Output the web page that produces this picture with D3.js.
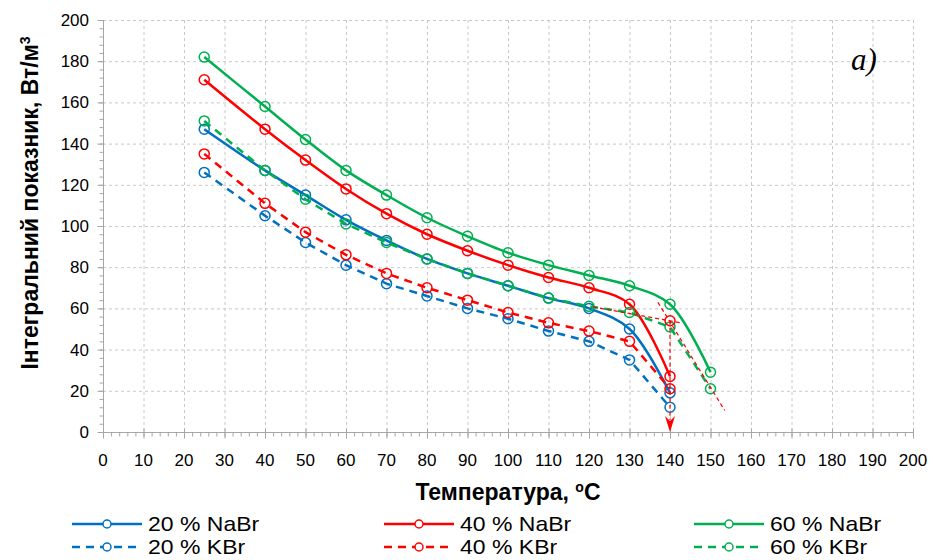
<!DOCTYPE html>
<html lang="uk">
<head>
<meta charset="utf-8">
<title>Інтегральний показник</title>
<script src="https://d3js.org/d3.v7.min.js"></script>
<style>
  body { margin: 0; background: #fff; }
  text { font-family: "Liberation Sans", Arial, sans-serif; fill: #000; }
</style>
</head>
<body>
<div id="chart"></div>
<script>
// temperatures, oC
var tempNa = [25, 40, 50, 60, 70, 80, 90, 100, 110, 120, 130, 140];
var tempNa60 = [25, 40, 50, 60, 70, 80, 90, 100, 110, 120, 130, 140, 150];

// integral index, W/m3
var na20 = [147, 127, 115, 103, 93, 84, 77, 71, 65, 60, 50, 19];
var na40 = [171, 147, 132, 118, 106, 96, 88, 81, 75, 70, 62, 27];
var na60 = [182, 158, 142, 127, 115, 104, 95, 87, 81, 76, 71, 62, 29];
var k20 = [126, 105, 92, 81, 72, 66, 60, 55, 49, 44, 35, 12];
var k40 = [135, 111, 97, 86, 77, 70, 64, 58, 53, 49, 44, 21];
var k60 = [151, 127, 113, 101, 92, 84, 77, 71, 65, 61, 58, 51, 21];

var seriesNames = ["20 % NaBr", "40 % NaBr", "60 % NaBr", "20 % KBr", "40 % KBr", "60 % KBr"];
var xTicks = d3.range(0, 201, 10);
var yTicks = d3.range(0, 201, 20);

// tangent lines used to find the critical point
var tangentA = [[121, 60.7], [143, 52.9]];
var tangentB = [[137, 63], [153.5, 10.5]];
var critical = [140, 54];

var blue = "#0070C0", red = "#FF0000", green = "#00B050";

var series = [
  {name: seriesNames[0], x: tempNa, y: na20, color: blue, dash: null},
  {name: seriesNames[1], x: tempNa, y: na40, color: red, dash: null},
  {name: seriesNames[2], x: tempNa60, y: na60, color: green, dash: null},
  {name: seriesNames[3], x: tempNa, y: k20, color: blue, dash: "8,6"},
  {name: seriesNames[4], x: tempNa, y: k40, color: red, dash: "8,6"},
  {name: seriesNames[5], x: tempNa60, y: k60, color: green, dash: "8,6"}
];

var W = 935, H = 560;
var plot = {left: 103, right: 913, top: 20, bottom: 432};

var svg = d3.select("#chart").append("svg")
  .attr("width", W).attr("height", H);

var x = d3.scaleLinear().domain([0, 200]).range([plot.left, plot.right]);
var y = d3.scaleLinear().domain([0, 200]).range([plot.bottom, plot.top]);

// grid
var grid = svg.append("g").attr("stroke", "#c8c8c8").attr("stroke-dasharray", "3,3").attr("stroke-width", 1);
grid.selectAll(".gx").data(xTicks.slice(1)).enter().append("line")
  .attr("x1", d => x(d) + 0.5).attr("x2", d => x(d) + 0.5)
  .attr("y1", plot.top).attr("y2", plot.bottom);
grid.selectAll(".gy").data(yTicks.slice(1)).enter().append("line")
  .attr("x1", plot.left).attr("x2", plot.right)
  .attr("y1", d => y(d) + 0.5).attr("y2", d => y(d) + 0.5);

// X axis
var xAxis = svg.append("g").attr("transform", "translate(0," + (plot.bottom + 0.5) + ")");
xAxis.call(d3.axisBottom(x).tickValues(d3.range(0, 201, 2)).tickSize(4).tickFormat(""));
xAxis.append("g").call(d3.axisBottom(x).tickValues(xTicks).tickSize(6).tickFormat(""));
xAxis.selectAll("path").remove();
xAxis.append("line").attr("x1", plot.left).attr("x2", plot.right).attr("stroke", "#a6a6a6");
xAxis.selectAll(".tick line").attr("stroke", "#a6a6a6");
xAxis.selectAll(".tick line").attr("y1", function() { return +d3.select(this).attr("y2") === 6 ? -4 : 0; });
svg.append("g").selectAll("text").data(xTicks).enter().append("text")
  .attr("x", d => x(d)).attr("y", 466)
  .attr("text-anchor", "middle").style("font-size", "17px")
  .text(d => d);

// Y axis
var yAxis = svg.append("g").attr("transform", "translate(" + (plot.left + 0.5) + ",0)");
yAxis.call(d3.axisLeft(y).tickValues(d3.range(0, 201, 4)).tickSize(4).tickFormat(""));
yAxis.append("g").call(d3.axisLeft(y).tickValues(yTicks).tickSize(6).tickFormat(""));
yAxis.selectAll("path").remove();
yAxis.append("line").attr("y1", plot.top).attr("y2", plot.bottom).attr("stroke", "#a6a6a6");
yAxis.selectAll(".tick line").attr("stroke", "#a6a6a6");
svg.append("g").selectAll("text").data(yTicks).enter().append("text")
  .attr("x", 89).attr("y", d => y(d)).attr("dy", "0.35em")
  .attr("text-anchor", "end").style("font-size", "17px")
  .text(d => d);

// axis titles
var yt = svg.append("text")
  .attr("transform", "translate(38,203) rotate(-90)")
  .attr("text-anchor", "middle")
  .style("font-size", "23px").style("font-weight", "bold");
yt.append("tspan").text("Інтегральний показник, Вт/м");
yt.append("tspan").attr("baseline-shift", "super").style("font-size", "14px").text("3");

var xt = svg.append("text")
  .attr("x", 508).attr("y", 500)
  .attr("text-anchor", "middle")
  .style("font-size", "23px").style("font-weight", "bold");
xt.append("tspan").text("Температура, ");
xt.append("tspan").attr("baseline-shift", "super").style("font-size", "14px").text("o");
xt.append("tspan").text("C");

// series
var smooth = d3.line().x(d => x(d[0])).y(d => y(d[1])).curve(d3.curveCatmullRom.alpha(0.5));
var straight = d3.line().x(d => x(d[0])).y(d => y(d[1]));

series.forEach(function(s) {
  var pts = s.x.map((t, i) => [t, s.y[i]]);
  svg.append("path")
    .attr("d", s.dash ? straight(pts) : smooth(pts))
    .attr("fill", "none").attr("stroke", s.color).attr("stroke-width", 2.5)
    .attr("stroke-dasharray", s.dash);
  svg.append("g").selectAll("circle").data(pts).enter().append("circle")
    .attr("cx", d => x(d[0])).attr("cy", d => y(d[1])).attr("r", 5)
    .attr("fill", "none").attr("stroke", s.color).attr("stroke-width", 1.5);
});

// critical point construction
var ann = svg.append("g").attr("stroke", red).attr("fill", "none").attr("stroke-width", 1.2)
  .attr("stroke-dasharray", "4,3");
ann.append("path").attr("d", straight(tangentA));
ann.append("path").attr("d", straight(tangentB));
ann.append("line")
  .attr("x1", x(critical[0])).attr("x2", x(critical[0]))
  .attr("y1", y(critical[1])).attr("y2", y(0) - 12);
svg.append("circle").attr("cx", x(critical[0])).attr("cy", y(critical[1])).attr("r", 5)
  .attr("fill", "none").attr("stroke", red).attr("stroke-width", 1.5);
svg.append("path")
  .attr("d", "M" + (x(critical[0]) - 5) + "," + (y(0) - 16) +
             "L" + x(critical[0]) + "," + (y(0) - 11) +
             "L" + (x(critical[0]) + 5) + "," + (y(0) - 16) +
             "L" + x(critical[0]) + "," + y(0) + "Z")
  .attr("fill", red);

// panel label
svg.append("text").attr("x", 851).attr("y", 70)
  .style("font-family", "'Liberation Serif', 'Times New Roman', serif")
  .style("font-style", "italic").style("font-size", "31px")
  .text("a)");

// legend
var legCols = [72, 384, 694];
var legRows = [524, 547];
var leg = svg.append("g");
series.forEach(function(s, i) {
  var lx = legCols[i % 3], ly = legRows[Math.floor(i / 3)];
  leg.append("line").attr("x1", lx).attr("x2", lx + 70).attr("y1", ly).attr("y2", ly)
    .attr("stroke", s.color).attr("stroke-width", 2.5).attr("stroke-dasharray", s.dash ? "8,6" : null);
  leg.append("circle").attr("cx", lx + 35).attr("cy", ly).attr("r", 4)
    .attr("fill", "#fff").attr("stroke", s.color).attr("stroke-width", 1.5);
  leg.append("text")
    .attr("transform", "translate(" + (lx + 76) + "," + ly + ") scale(1.15,1)")
    .attr("dy", "0.35em")
    .style("font-size", "20px").text(s.name);
});
</script>
</body>
</html>
